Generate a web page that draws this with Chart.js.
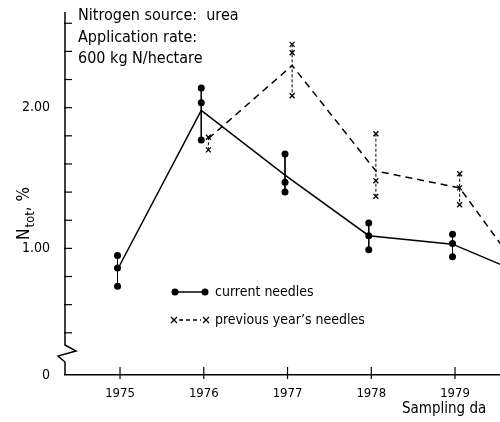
<!DOCTYPE html>
<html>
<head>
<meta charset="utf-8">
<script src="https://cdn.jsdelivr.net/npm/chart.js@4"></script>
<style>
  html,body{margin:0;padding:0;background:#fff;}
  #wrap{width:500px;height:422px;}
</style>
</head>
<body>
<div id="wrap"><canvas id="c" width="500" height="422"></canvas></div>
<script>
// sampling years and replicate readings (N tot, %)
const years = [1975, 1976, 1977, 1978, 1979];
const currentReps = [[0.95, 0.86, 0.73], [2.14, 2.035, 1.77], [1.67, 1.47, 1.40], [1.18, 1.09, 0.99], [1.10, 1.035, 0.94]];
const currentMean = [0.85, 1.98, 1.52, 1.09, 1.03];

const prevYears = [1976, 1977, 1978, 1979];
const prevReps = [[1.79, 1.70], [2.45, 2.39, 2.085], [1.815, 1.48, 1.37], [1.53, 1.43, 1.31]];
const prevMean = [1.78, 2.30, 1.55, 1.43];

// the lines run on past the right edge toward the 1980 sampling
const tailYear = 1980;
const currentTail = 0.77;
const prevTail = 0.66;

const yTicks = [0.4, 0.6, 0.8, 1.0, 1.2, 1.4, 1.6, 1.8, 2.0, 2.2, 2.4, 2.6];
const yLabels = {'1.0': '1.00', '2.0': '2.00'};
const yZero = 0.1;   // where the broken axis puts "0"

const curShift = -0.03, prevShift = 0.055;
const FONT = "'DejaVu Sans Condensed', 'Liberation Sans Narrow', 'DejaVu Sans', sans-serif";

const datasets = [];
datasets.push({
  data: years.map((y, i) => ({x: y + curShift, y: currentMean[i]})).concat([{x: tailYear, y: currentTail}]),
  borderColor: '#000', borderWidth: 1.5, pointRadius: 0, tension: 0
});
datasets.push({
  data: prevYears.map((y, i) => ({x: y + prevShift, y: prevMean[i]})).concat([{x: tailYear, y: prevTail}]),
  borderColor: '#000', borderWidth: 1.5, borderDash: [7, 5], pointRadius: 0, tension: 0
});
years.forEach((yr, i) => {
  datasets.push({
    data: currentReps[i].map(v => ({x: yr + curShift, y: v})),
    borderColor: '#000', borderWidth: 1, backgroundColor: '#000',
    pointStyle: 'circle', pointRadius: 3.5, pointBorderWidth: 0
  });
});
prevYears.forEach((yr, i) => {
  datasets.push({
    data: prevReps[i].map(v => ({x: yr + prevShift, y: v})),
    borderColor: '#000', borderWidth: 1, borderDash: [3, 2],
    pointStyle: 'crossRot', pointRadius: 3.5, pointBorderWidth: 1.3, pointBorderColor: '#000'
  });
});

const decor = {
  id: 'decor',
  afterDraw(chart) {
    const ctx = chart.ctx, xs = chart.scales.x, ys = chart.scales.y;
    const ax = xs.left, top = chart.chartArea.top, bot = chart.chartArea.bottom;
    ctx.save();
    ctx.strokeStyle = '#000'; ctx.fillStyle = '#000'; ctx.lineWidth = 1.5;

    // broken y axis
    ctx.beginPath();
    ctx.moveTo(ax, top);
    ctx.lineTo(ax, 345);
    ctx.lineTo(ax + 11, 351);
    ctx.lineTo(ax - 7, 356);
    ctx.lineTo(ax, 362);
    ctx.lineTo(ax, bot);
    ctx.stroke();

    ctx.lineWidth = 1.2;
    yTicks.forEach(v => {
      const p = ys.getPixelForValue(v);
      ctx.beginPath(); ctx.moveTo(ax - 1, p); ctx.lineTo(ax + 7, p); ctx.stroke();
    });
    years.forEach(v => {
      const p = xs.getPixelForValue(v);
      ctx.beginPath(); ctx.moveTo(p, bot - 8); ctx.lineTo(p, bot + 4); ctx.stroke();
    });

    // note in the top left
    ctx.font = '16px ' + FONT;
    ctx.textBaseline = 'alphabetic'; ctx.textAlign = 'left';
    ctx.fillText('Nitrogen source:  urea', 78, 20);
    ctx.fillText('Application rate:', 78, 42);
    ctx.fillText('600 kg N/hectare', 78, 63);

    // legend
    ctx.lineWidth = 1.5;
    ctx.beginPath(); ctx.moveTo(175, 292); ctx.lineTo(205, 292); ctx.stroke();
    [175, 205].forEach(x => { ctx.beginPath(); ctx.arc(x, 292, 3.5, 0, Math.PI * 2); ctx.fill(); });
    ctx.setLineDash([4, 3]);
    ctx.beginPath(); ctx.moveTo(179, 320); ctx.lineTo(201, 320); ctx.stroke();
    ctx.setLineDash([]);
    ctx.lineWidth = 1.3;
    [174, 206].forEach(x => {
      ctx.beginPath();
      ctx.moveTo(x - 3, 317); ctx.lineTo(x + 3, 323);
      ctx.moveTo(x + 3, 317); ctx.lineTo(x - 3, 323);
      ctx.stroke();
    });
    ctx.font = '14px ' + FONT;
    ctx.textBaseline = 'middle';
    ctx.fillText('current needles', 215, 292);
    ctx.fillText('previous year\u2019s needles', 215, 320);

    // x title
    ctx.font = '15px ' + FONT;
    ctx.fillText('Sampling da', 402, 409);

    // y title: N_tot, %
    ctx.translate(29, 240);
    ctx.rotate(-Math.PI / 2);
    ctx.textBaseline = 'alphabetic';
    ctx.font = '17px ' + FONT;
    ctx.fillText('N', 0, 0);
    let w = ctx.measureText('N').width;
    ctx.font = '13px ' + FONT;
    ctx.fillText('tot', w + 1, 5);
    w += 1 + ctx.measureText('tot').width;
    ctx.font = '17px ' + FONT;
    ctx.fillText(', %', w, 0);
    ctx.restore();
  }
};

new Chart(document.getElementById('c'), {
  type: 'line',
  data: {datasets},
  options: {
    responsive: false,
    animation: false,
    layout: {autoPadding: false, padding: {top: 12, left: 0, right: 0, bottom: 0}},
    plugins: {legend: {display: false}, tooltip: {enabled: false}},
    scales: {
      x: {
        type: 'linear', min: 1974.343, max: 1979.537,
        afterBuildTicks: s => { s.ticks = years.map(v => ({value: v})); },
        afterFit: s => { s.height = 47; s.paddingLeft = 0; s.paddingRight = 0; },
        grid: {display: false},
        border: {display: true, color: '#000', width: 1.5},
        ticks: {color: '#000', font: {family: FONT, size: 13}, padding: 3, maxRotation: 0,
          callback: v => String(v)}
      },
      y: {
        type: 'linear', min: yZero, max: 2.68,
        afterBuildTicks: s => { s.ticks = [yZero].concat(yTicks).map(v => ({value: v})); },
        afterFit: s => { s.width = 65; s.paddingTop = 0; s.paddingBottom = 0; },
        grid: {display: false},
        border: {display: false},
        ticks: {color: '#000', font: {family: FONT, size: 14}, padding: 7,
          callback: v => Math.abs(v - yZero) < 1e-6 ? '0' : (yLabels[v.toFixed(1)] || '')}
      }
    }
  },
  plugins: [decor]
});
</script>
</body>
</html>
